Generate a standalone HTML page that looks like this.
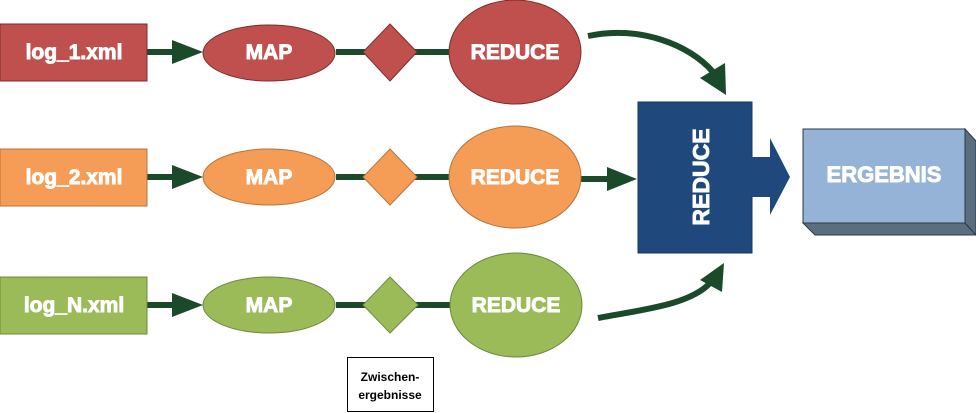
<!DOCTYPE html>
<html><head><meta charset="utf-8"><style>
html,body{margin:0;padding:0;background:#fff;width:976px;height:413px;overflow:hidden}
text{font-family:"Liberation Sans",Arial,sans-serif;font-weight:bold;fill:#fff}
.w{stroke:#fff;stroke-width:0.9}
</style></head><body>
<svg width="976" height="413" viewBox="0 0 976 413" xmlns="http://www.w3.org/2000/svg">
<g stroke="#1b4a2b" stroke-width="6" fill="none">
<line x1="147" y1="52" x2="175" y2="52"/><line x1="336" y1="52" x2="450" y2="52"/>
<line x1="147" y1="177" x2="175" y2="177"/><line x1="336" y1="177" x2="450" y2="177"/>
<line x1="147" y1="305" x2="175" y2="305"/><line x1="336" y1="305" x2="450" y2="305"/>
<line x1="580" y1="179" x2="610" y2="179"/>
<path d="M588,36 C640,25 690,45 713,72"/>
<path d="M598,318 C640,310 690,305 710,283"/>
</g>
<g fill="#1b4a2b">
<path d="M172,40 L203,52 L172,64Z"/><path d="M172,165 L203,177 L172,189Z"/><path d="M172,293 L203,305 L172,317Z"/>
<path d="M607,167 L637,179 L607,191Z"/>
<path d="M700,78 L725,63 L726,95Z"/>
<path d="M700,280 L724,263 L722,292Z"/>
</g>
<g fill="#c0504d" stroke="#7a2f2d" stroke-width="1">
<rect x="0" y="24" width="147" height="57"/>
<ellipse cx="269" cy="53" rx="66" ry="28"/>
<path d="M390,24 L417,52 L390,81 L363,52Z"/>
<ellipse cx="515" cy="52" rx="66" ry="52"/>
</g>
<g fill="#f59d56" stroke="#b8733c" stroke-width="1">
<rect x="0" y="149" width="147" height="57"/>
<ellipse cx="269" cy="177" rx="66" ry="28"/>
<path d="M390,149 L417,177 L390,205 L363,177Z"/>
<ellipse cx="515" cy="177" rx="66" ry="51"/>
</g>
<g fill="#9bbb59" stroke="#6d8a3c" stroke-width="1">
<rect x="0" y="277" width="147" height="57"/>
<ellipse cx="269" cy="305" rx="66" ry="28"/>
<path d="M390,277 L418,305 L390,333 L363,305Z"/>
<ellipse cx="516" cy="305" rx="66" ry="52"/>
</g>
<g font-size="21" text-anchor="middle" class="w">
<text x="74" y="59">log_1.xml</text><text x="269" y="59">MAP</text><text x="515" y="59">REDUCE</text>
<text x="74" y="184">log_2.xml</text><text x="269" y="184">MAP</text><text x="515" y="184">REDUCE</text>
<text x="74" y="312">log_N.xml</text><text x="269" y="312">MAP</text><text x="516" y="312">REDUCE</text>
</g>
<rect x="638" y="102" width="114" height="151" fill="#1f497d" stroke="#16365c"/>
<path d="M751,157 L770,157 L770,138 L790,177 L770,215 L770,197 L751,197Z" fill="#1f497d"/>
<text class="w" x="0" y="0" font-size="23" text-anchor="middle" transform="translate(701,177) rotate(-90)" dy="8">REDUCE</text>
<path d="M803,223 L965,223 L976,235 L815,235Z" fill="#5a6e80" stroke="#2d3a45"/>
<path d="M965,129 L976,141 L976,235 L965,223Z" fill="#5a6e80" stroke="#2d3a45"/>
<rect x="803" y="129" width="162" height="94" fill="#95b3d7" stroke="#2d3a45"/>
<text class="w" x="884" y="182" font-size="22" text-anchor="middle">ERGEBNIS</text>
<rect x="347.5" y="357.5" width="86" height="54" fill="#fff" stroke="#000"/>
<text x="390" y="381" font-size="12" text-anchor="middle" style="fill:#000">Zwischen-</text>
<text x="390" y="399" font-size="12" text-anchor="middle" style="fill:#000">ergebnisse</text>
</svg>
</body></html>
